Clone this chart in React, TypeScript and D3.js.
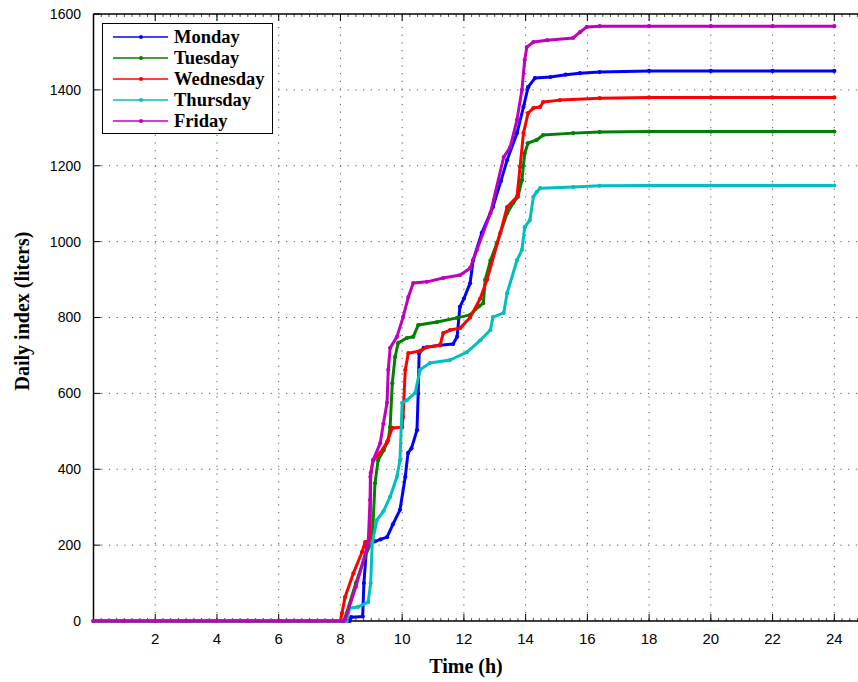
import React from "react";
import * as d3 from "d3";

const days = ["Monday", "Tuesday", "Wednesday", "Thursday", "Friday"];
const colors = ["#0000ff", "#008000", "#ff0000", "#00bfbf", "#bf00bf"];

const xTicks = [2, 4, 6, 8, 10, 12, 14, 16, 18, 20, 22, 24];
const yTicks = [0, 200, 400, 600, 800, 1000, 1200, 1400, 1600];

// [hour, liters]
const monday: [number, number][] = [
  [0, 0], [1, 0], [2, 0], [3, 0], [4, 0], [5, 0], [6, 0], [7, 0], [8, 0], [8.3, 0], [8.35, 10], [8.72, 12], [8.76, 100], [8.86, 208],
  [9.12, 210], [9.3, 215], [9.51, 221], [9.7, 255], [9.93, 293], [10.1, 380], [10.19, 443],
  [10.3, 455], [10.48, 503], [10.52, 600], [10.55, 706], [10.7, 720], [11.22, 727], [11.65, 730],
  [11.78, 749], [11.87, 828], [12.0, 850], [12.2, 890], [12.3, 951], [12.58, 1023], [12.94, 1091],
  [13.2, 1160], [13.4, 1215], [13.72, 1286], [13.93, 1355], [14.08, 1407], [14.3, 1431], [14.8, 1434],
  [15.3, 1440], [15.76, 1444], [16.4, 1447], [18, 1450], [20, 1450], [22, 1450], [24, 1450],
];

const tuesday: [number, number][] = [
  [0, 0], [1, 0], [2, 0], [3, 0], [4, 0], [5, 0], [6, 0], [7, 0], [8.1, 0], [8.2, 21], [8.5, 100], [8.8, 170], [9.03, 213], [9.12, 363],
  [9.22, 424], [9.4, 450], [9.55, 477], [9.61, 511], [9.68, 627], [9.77, 696], [9.87, 733],
  [10.15, 746], [10.36, 749], [10.52, 780], [11.13, 788], [11.78, 799], [12.2, 807], [12.5, 830],
  [12.63, 838], [12.69, 899], [12.86, 950], [13.07, 996], [13.4, 1075], [13.6, 1102], [13.75, 1118],
  [13.88, 1162], [13.97, 1233], [14.08, 1260], [14.36, 1268], [14.57, 1281], [15.54, 1286],
  [16.4, 1289], [18, 1290], [20, 1290], [22, 1290], [24, 1290],
];

const wednesday: [number, number][] = [
  [0, 0], [1, 0], [2, 0], [3, 0], [4, 0], [5, 0], [6, 0], [7, 0], [8.0, 0], [8.05, 21], [8.15, 63], [8.42, 126], [8.7, 182], [8.8, 208],
  [8.96, 213], [8.98, 390], [9.06, 424], [9.29, 443], [9.51, 472], [9.68, 509], [10.0, 511],
  [10.03, 538], [10.1, 662], [10.2, 706], [10.58, 712], [10.8, 722], [11.23, 727], [11.33, 759],
  [11.55, 767], [11.88, 772], [12.2, 800], [12.53, 850], [12.75, 900], [13.18, 1023], [13.4, 1091],
  [13.72, 1118], [13.82, 1197], [13.93, 1286], [14.08, 1339], [14.25, 1352], [14.47, 1355],
  [14.57, 1368], [15.11, 1373], [16.4, 1378], [18, 1380], [20, 1380], [22, 1380], [24, 1380],
];

const thursday: [number, number][] = [
  [0, 0], [1, 0], [2, 0], [3, 0], [4, 0], [5, 0], [6, 0], [7, 0], [8.2, 0], [8.3, 34], [8.57, 37], [8.9, 50], [8.98, 100], [9.03, 205],
  [9.18, 266], [9.4, 290], [9.61, 327], [9.83, 380], [9.93, 424], [10.0, 575], [10.15, 582],
  [10.42, 601], [10.58, 662], [10.9, 680], [11.55, 688], [12.1, 709], [12.53, 740], [12.86, 767],
  [12.94, 801], [13.29, 812], [13.4, 864], [13.72, 951], [13.88, 978], [13.97, 1038], [14.14, 1057],
  [14.25, 1118], [14.36, 1131], [14.47, 1141], [15.54, 1144], [16.4, 1147], [18, 1148], [20, 1148],
  [22, 1148], [24, 1148],
];

const friday: [number, number][] = [
  [0, 0], [1, 0], [2, 0], [3, 0], [4, 0], [5, 0], [6, 0], [7, 0], [8.1, 0], [8.15, 3], [8.5, 90], [8.9, 205], [8.96, 319], [8.97, 380],
  [9.06, 424], [9.29, 469], [9.39, 520], [9.51, 575], [9.55, 662], [9.61, 720], [9.83, 749],
  [10.03, 801], [10.2, 854], [10.36, 891], [10.8, 894], [11.33, 904], [11.88, 912], [12.2, 930],
  [12.42, 978], [12.86, 1075], [13.29, 1223], [13.5, 1249], [13.72, 1321], [13.88, 1400],
  [13.97, 1479], [14.04, 1513], [14.25, 1526], [14.7, 1531], [15.54, 1537], [15.76, 1552],
  [15.98, 1566], [16.4, 1568], [18, 1568], [20, 1568], [22, 1568], [24, 1568],
];

const series = [monday, tuesday, wednesday, thursday, friday];

const W = 858;
const H = 682;

export default function App() {
  const x = d3.scaleLinear().domain([0, 24]).range([93.5, 834.3]);
  const y = d3.scaleLinear().domain([0, 1600]).range([621, 14]);
  const xEnd = x(25);
  const line = d3
    .line<[number, number]>()
    .x((d) => x(d[0]))
    .y((d) => y(d[1]));

  const minor = d3.range(0, 25.001, 0.25);

  return (
    <svg
      width={W}
      height={H}
      style={{ position: "absolute", left: 0, top: 0, background: "#fff" }}
    >
      <rect x={0} y={0} width={W} height={H} fill="#fff" />
      {/* grid */}
      <g stroke="#555" strokeWidth={1} strokeDasharray="1.2 6.5">
        {xTicks.map((t) => (
          <line key={"gx" + t} x1={x(t)} x2={x(t)} y1={y(0)} y2={y(1600)} />
        ))}
        {yTicks.slice(1, -1).map((t) => (
          <line key={"gy" + t} x1={x(0)} x2={xEnd} y1={y(t)} y2={y(t)} />
        ))}
      </g>
      {/* minor ticks */}
      <g stroke="#222" strokeWidth={0.8}>
        {minor.map((t) => (
          <g key={"m" + t}>
            <line x1={x(t)} x2={x(t)} y1={y(0)} y2={y(0) - 3} />
            <line x1={x(t)} x2={x(t)} y1={y(1600)} y2={y(1600) + 3} />
          </g>
        ))}
      </g>
      {/* major ticks */}
      <g stroke="#000" strokeWidth={1}>
        {xTicks.map((t) => (
          <g key={"tx" + t}>
            <line x1={x(t)} x2={x(t)} y1={y(0)} y2={y(0) - 7} />
            <line x1={x(t)} x2={x(t)} y1={y(1600)} y2={y(1600) + 7} />
          </g>
        ))}
        {yTicks.map((t) => (
          <line key={"ty" + t} x1={x(0)} x2={x(0) + 7} y1={y(t)} y2={y(t)} />
        ))}
      </g>
      {/* axes */}
      <g stroke="#000" strokeWidth={1.5} fill="none">
        <line x1={x(0)} x2={xEnd} y1={y(0)} y2={y(0)} />
        <line x1={x(0)} x2={xEnd} y1={y(1600)} y2={y(1600)} />
        <line x1={x(0)} x2={x(0)} y1={y(0)} y2={y(1600)} />
      </g>
      {/* series */}
      {series.map((s, i) => (
        <g key={days[i]}>
          <path d={line(s) || ""} fill="none" stroke={colors[i]} strokeWidth={3} strokeLinejoin="round" />
          {s.map((d, j) => (
            <circle key={j} cx={x(d[0])} cy={y(d[1])} r={2.1} fill={colors[i]} />
          ))}
        </g>
      ))}
      {/* tick labels */}
      <g fontFamily="'Liberation Sans', Arial, sans-serif" fill="#000">
        {xTicks.map((t) => (
          <text key={"lx" + t} x={x(t)} y={644} fontSize={15} textAnchor="middle">
            {t}
          </text>
        ))}
        {yTicks.map((t) => (
          <text key={"ly" + t} x={81} y={y(t)} dy="0.35em" fontSize={14} textAnchor="end">
            {t}
          </text>
        ))}
      </g>
      {/* axis titles */}
      <g fontFamily="'Liberation Serif', 'Times New Roman', serif" fontWeight="bold" fill="#000">
        <text x={466} y={673} fontSize={20} textAnchor="middle">
          Time (h)
        </text>
        <text
          transform={`translate(29, 311) rotate(-90)`}
          fontSize={20}
          textAnchor="middle"
        >
          Daily index (liters)
        </text>
      </g>
      {/* legend */}
      <g>
        <rect x={102.5} y={23.5} width={170} height={110} fill="#fff" stroke="#000" strokeWidth={1} />
        {days.map((dname, i) => {
          const ly = 37 + i * 21;
          return (
            <g key={"lg" + dname}>
              <line x1={113} x2={168} y1={ly} y2={ly} stroke={colors[i]} strokeWidth={1.5} />
              <circle cx={141} cy={ly} r={2} fill={colors[i]} />
              <text
                x={174}
                y={ly}
                dy="0.35em"
                fontFamily="'Liberation Serif', 'Times New Roman', serif"
                fontWeight="bold"
                fontSize={18.5}
                fill="#000"
              >
                {dname}
              </text>
            </g>
          );
        })}
      </g>
    </svg>
  );
}
